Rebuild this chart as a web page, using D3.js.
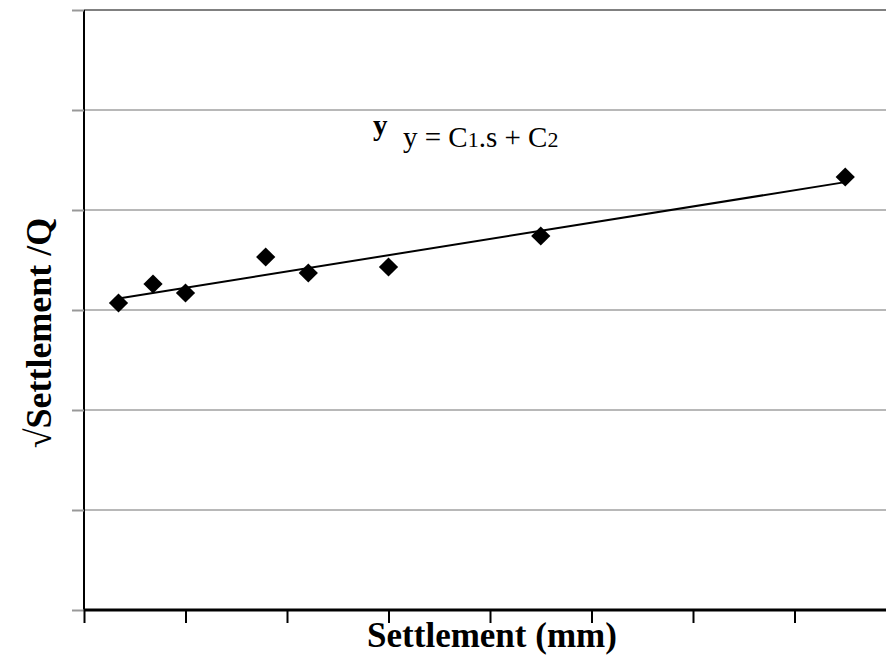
<!DOCTYPE html>
<html>
<head>
<meta charset="utf-8">
<script src="https://cdn.jsdelivr.net/npm/d3@7"></script>
<style>
  body { margin: 0; background: #fff; }
  text { font-family: "Times New Roman", "Liberation Serif", serif; }
</style>
</head>
<body>
<div id="myChart"></div>
<script>
// settlement (mm) vs sqrt(settlement)/Q, with a least squares trend line
const settlement = [0.34, 0.68, 1.0, 1.79, 2.21, 3.0, 4.5, 7.5];
const ratio = [3.07, 3.26, 3.17, 3.53, 3.37, 3.43, 3.74, 4.33];
const xTicks = [0, 1, 2, 3, 4, 5, 6, 7];
const yTicks = [0, 1, 2, 3, 4, 5, 6];

var width = 886,
    height = 657,
    margin = {top: 10, right: 0, bottom: 47, left: 84};

var svg = d3.select("#myChart")
  .append("svg")
    .attr("width", width)
    .attr("height", height);

var x = d3.scaleLinear()
  .domain([0, (width - margin.left - margin.right) / 101.5])
  .range([margin.left, width - margin.right]);

var y = d3.scaleLinear()
  .domain([0, 6])
  .range([height - margin.bottom, margin.top]);

// gridlines
svg.append("g")
  .selectAll("line")
  .data(yTicks.filter(d => d > 0))
  .enter()
  .append("line")
    .attr("x1", margin.left)
    .attr("x2", width)
    .attr("y1", d => y(d))
    .attr("y2", d => y(d))
    .attr("stroke", d => d == 6 ? "#808080" : "#b8b8b8")
    .attr("stroke-width", 2);

// y axis (no labels)
var yAxis = svg.append("g")
  .attr("transform", "translate(" + margin.left + ",0)")
  .call(d3.axisLeft(y).tickValues(yTicks).tickSize(12).tickFormat(""));
yAxis.selectAll(".tick line").attr("stroke", "#999").attr("stroke-width", 2);
yAxis.select(".domain").attr("stroke", "#000").attr("stroke-width", 2)
  .attr("d", "M0," + y(6) + "V" + y(0));

// x axis (no labels)
var xAxis = svg.append("g")
  .attr("transform", "translate(0," + y(0) + ")")
  .call(d3.axisBottom(x).tickValues(xTicks).tickSize(13).tickFormat(""));
xAxis.selectAll(".tick line").attr("stroke", "#000").attr("stroke-width", 2);
xAxis.select(".domain").attr("stroke", "#000").attr("stroke-width", 3)
  .attr("d", "M" + margin.left + ",0H" + width);

// trend line from least squares fit
var mx = d3.mean(settlement), my = d3.mean(ratio);
var sxy = d3.sum(settlement, (d, i) => (d - mx) * (ratio[i] - my));
var sxx = d3.sum(settlement, d => (d - mx) * (d - mx));
var slope = sxy / sxx, intercept = my - slope * mx;
var xr = d3.extent(settlement);

svg.append("line")
  .attr("x1", x(xr[0]))
  .attr("y1", y(intercept + slope * xr[0]))
  .attr("x2", x(xr[1]))
  .attr("y2", y(intercept + slope * xr[1]))
  .attr("stroke", "#000")
  .attr("stroke-width", 2);

// diamond markers
svg.append("g")
  .selectAll("path")
  .data(settlement)
  .enter()
  .append("path")
    .attr("d", d3.symbol().type(d3.symbolSquare).size(185))
    .attr("transform", (d, i) => "translate(" + x(d) + "," + y(ratio[i]) + ") rotate(45)")
    .attr("fill", "#000");

// equation label
svg.append("text")
  .attr("x", 373)
  .attr("y", 135)
  .style("font-size", "29px")
  .style("font-weight", "bold")
  .text("y");

var eq = svg.append("text")
  .attr("x", 403)
  .attr("y", 147)
  .style("font-size", "29px");
eq.append("tspan").text("y = C");
eq.append("tspan").style("font-size", "22px").text("1");
eq.append("tspan").text(".s + C");
eq.append("tspan").style("font-size", "22px").text("2");

// axis titles
svg.append("text")
  .attr("x", 492)
  .attr("y", 647)
  .attr("text-anchor", "middle")
  .style("font-size", "35px")
  .style("font-weight", "bold")
  .text("Settlement (mm)");

svg.append("text")
  .attr("transform", "translate(51,333) rotate(-90)")
  .attr("text-anchor", "middle")
  .style("font-size", "36px")
  .style("font-weight", "bold")
  .text("√Settlement /Q");
</script>
</body>
</html>
